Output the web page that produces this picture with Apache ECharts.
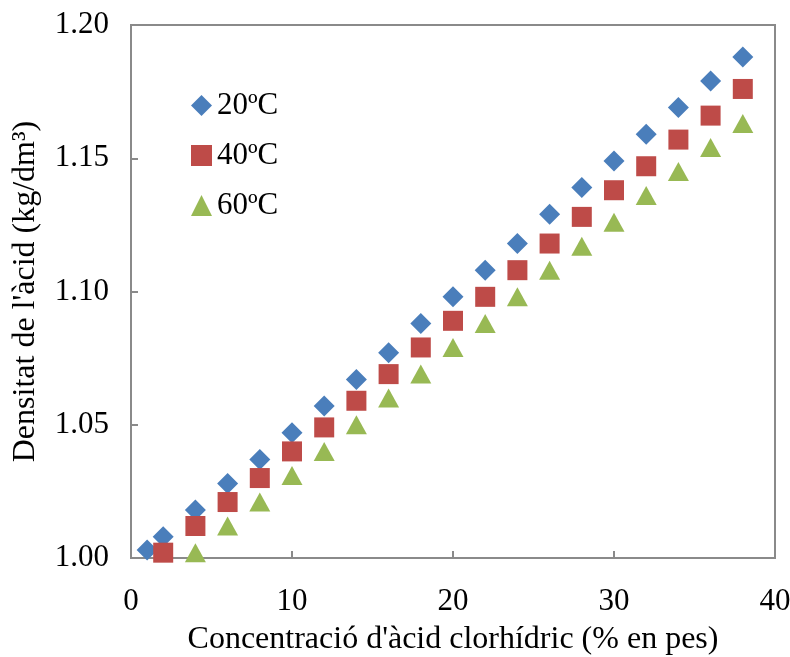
<!DOCTYPE html>
<html>
<head>
<meta charset="utf-8">
<script src="https://cdn.jsdelivr.net/npm/echarts@6/dist/echarts.min.js"></script>
<style>
  html, body { margin: 0; padding: 0; background: #fff; }
  #chart { width: 790px; height: 657px; }
</style>
</head>
<body>
<div id="chart"></div>
<script>
// concentracio (% en pes) i densitat (kg/dm3)
var conc20 = [1, 2, 4, 6, 8, 10, 12, 14, 16, 18, 20, 22, 24, 26, 28, 30, 32, 34, 36, 38];
var dens20 = [1.003, 1.008, 1.018, 1.028, 1.037, 1.047, 1.057, 1.067, 1.077, 1.088, 1.098,
              1.108, 1.118, 1.129, 1.139, 1.149, 1.159, 1.169, 1.179, 1.188];
var conc40 = [2, 4, 6, 8, 10, 12, 14, 16, 18, 20, 22, 24, 26, 28, 30, 32, 34, 36, 38];
var dens40 = [1.002, 1.012, 1.021, 1.030, 1.040, 1.049, 1.059, 1.069, 1.079, 1.089,
              1.098, 1.108, 1.118, 1.128, 1.138, 1.147, 1.157, 1.166, 1.176];
var conc60 = [4, 6, 8, 10, 12, 14, 16, 18, 20, 22, 24, 26, 28, 30, 32, 34, 36, 38];
var dens60 = [1.002, 1.012, 1.021, 1.031, 1.040, 1.050, 1.060, 1.069, 1.079, 1.088,
              1.098, 1.108, 1.117, 1.126, 1.136, 1.145, 1.154, 1.163];
var seriesNames = ['20ºC', '40ºC', '60ºC'];

function pairs(xs, ys) {
  var out = [];
  for (var i = 0; i < xs.length; i++) out.push([xs[i], ys[i]]);
  return out;
}

var font = '"Liberation Serif", "Times New Roman", serif';
var fs = 31;
var chart = echarts.init(document.getElementById('chart'));
chart.setOption({
  animation: false,
  color: ['#4A7EBB', '#BE4B48', '#98B954'],
  textStyle: { fontFamily: font },
  grid: {
    left: 131, right: 15, top: 25, bottom: 99,
    containLabel: false, outerBoundsMode: 'none',
    show: true, borderColor: '#8a8a8a', borderWidth: 2
  },
  legend: {
    data: seriesNames,
    orient: 'vertical',
    left: 186, top: 85,
    itemGap: 19,
    itemWidth: 21, itemHeight: 21,
    textStyle: { fontFamily: font, fontSize: fs, color: '#000' }
  },
  xAxis: {
    type: 'value', min: 0, max: 40, interval: 10,
    name: "Concentració d'àcid clorhídric (% en pes)",
    nameLocation: 'middle', nameGap: 66,
    nameTextStyle: { fontFamily: font, fontSize: 32, color: '#000' },
    axisLine: { lineStyle: { color: '#8a8a8a', width: 2 } },
    axisTick: { inside: true, length: 7, lineStyle: { color: '#8a8a8a', width: 2 } },
    axisLabel: { fontFamily: font, fontSize: fs, color: '#000', margin: 28 },
    splitLine: { show: false }
  },
  yAxis: {
    type: 'value', min: 1.0, max: 1.2, interval: 0.05,
    name: "Densitat de l'àcid (kg/dm³)",
    nameLocation: 'middle', nameGap: 89,
    nameTextStyle: { fontFamily: font, fontSize: 32, color: '#000' },
    axisLine: { lineStyle: { color: '#8a8a8a', width: 2 } },
    axisTick: { inside: true, length: 7, lineStyle: { color: '#8a8a8a', width: 2 } },
    axisLabel: {
      fontFamily: font, fontSize: fs, color: '#000', margin: 22,
      formatter: function (v) { return v.toFixed(2); }
    },
    splitLine: { show: false }
  },
  series: [
    {
      name: seriesNames[0], type: 'scatter', symbol: 'diamond', symbolSize: [21, 21],
      itemStyle: { opacity: 1 },
      data: pairs(conc20, dens20)
    },
    {
      name: seriesNames[1], type: 'scatter', symbol: 'rect', symbolSize: [20, 20],
      itemStyle: { opacity: 1 },
      data: pairs(conc40, dens40)
    },
    {
      name: seriesNames[2], type: 'scatter', symbol: 'triangle', symbolSize: [21, 19],
      itemStyle: { opacity: 1 },
      data: pairs(conc60, dens60)
    }
  ]
});
</script>
</body>
</html>
